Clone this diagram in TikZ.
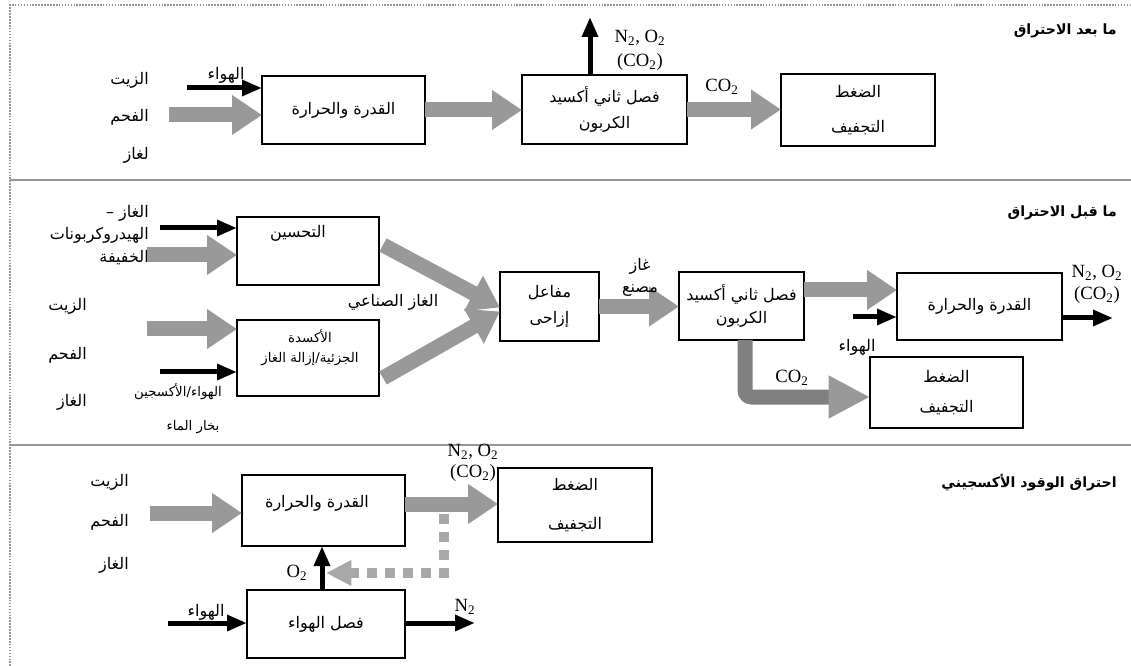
\documentclass[tikz,border=0pt]{standalone}
\usepackage{fontspec}
\usepackage{tikz}
\usetikzlibrary{arrows.meta,calc}
\newfontfamily\arabicfont[Script=Arabic]{DejaVu Sans}
\newfontfamily\chemfont{Liberation Serif}
\TeXXeTstate=1
\definecolor{arrowgray}{RGB}{153,153,153}
\definecolor{bendgray}{RGB}{128,128,128}
\definecolor{dotgray}{RGB}{168,168,168}
\definecolor{framegray}{RGB}{150,150,150}
\newcommand{\ar}[1]{\beginR #1\endR}
\tikzset{
  box/.style={draw, line width=0.8pt, inner sep=0pt, outer sep=0pt, anchor=north west, align=center, font=\arabicfont\fontsize{12}{14.4}\selectfont},
  txt/.style={inner sep=0.75pt, font=\arabicfont\fontsize{12}{14.4}\selectfont},
  small/.style={inner sep=0.75pt, font=\arabicfont\fontsize{10}{15}\selectfont},
  title/.style={inner sep=0.75pt, anchor=east, font=\arabicfont\bfseries\fontsize{10.6}{12}\selectfont},
  chem/.style={inner sep=0.75pt, align=center, font=\chemfont\fontsize{14}{18}\selectfont},
  fatarrow/.style={draw=arrowgray, line width=11.25pt, -{Triangle[length=22.5pt,width=28.5pt]}},
  bendarrow/.style={draw=bendgray, line width=11.25pt, rounded corners=5pt, -{Triangle[length=31pt,width=30pt,color=arrowgray]}},
  dotarrow/.style={draw=dotgray, line width=7.5pt, dash pattern=on 7.5pt off 6pt, -{Triangle[length=19pt,width=18pt]}},
  blackarrow/.style={line width=3.75pt, -{Triangle[length=15pt,width=11.5pt]}}
}
\begin{document}
\begin{tikzpicture}[x=0.75pt,y=0.75pt,yscale=-1,xscale=1]
\useasboundingbox (0,0) rectangle (1131,666);

\draw[framegray, line width=1.2pt, densely dotted] (10,666) -- (10,5) -- (1131,5);

\draw[framegray, line width=1.5pt] (10,180) -- (1131,180);

\draw[framegray, line width=1.5pt] (10,445) -- (1131,445);


\draw (1118,31) node (ttlpost) [title] {\ar{ما بعد الاحتراق}};

\draw (150,80) node (oil1) [txt, anchor=east] {\ar{الزيت}};

\draw (150,117) node (coal1) [txt, anchor=east] {\ar{الفحم}};

\draw (150,155) node (gas1) [txt, anchor=east] {\ar{لغاز}};

\draw (262,76) node (pw1) [box, minimum width=122.25pt, minimum height=51pt] {\ar{القدرة والحرارة}};

\draw (522,75) node (sep1) [box, minimum width=123.75pt, minimum height=51.75pt] {\ar{فصل ثاني أكسيد}\\[5.6pt]\ar{الكربون}};

\draw (781,74) node (st1) [box, minimum width=115.5pt, minimum height=54pt] {\ar{الضغط}\\[11.6pt]\ar{التجفيف}};

\coordinate (air1) at (187,88);
\draw[blackarrow] (air1) -- (air1 -| pw1.west);

\draw (226,75) node (air1lb) [txt] {\ar{الهواء}};

\coordinate (feed1) at (169,115);
\draw[fatarrow] (feed1) -- (feed1 -| pw1.west);

\draw[fatarrow] (pw1.east) -- (pw1.east -| sep1.west);

\coordinate (vent1) at (590,17);
\draw[blackarrow] (vent1 |- sep1.north) -- (vent1);

\draw (640,50) node (vent1lb) [chem] {N\textsubscript{2}, O\textsubscript{2}\\(CO\textsubscript{2})};

\draw[fatarrow] (sep1.east) -- (sep1.east -| st1.west);

\draw (722,87) node (co2a) [chem] {CO\textsubscript{2}};


\draw (1118,213) node (ttlpre) [title] {\ar{ما قبل الاحتراق}};

\draw (150,235) node (lhc) [txt, anchor=east, align=right, font=\arabicfont\fontsize{12}{17}\selectfont] {\ar{الغاز –}\\\ar{الهيدروكربونات}\\\ar{الخفيفة}};

\draw (237,217) node (ref) [box, minimum width=106.5pt, minimum height=51pt] {};

\draw (298,233) node (reft) [txt] {\ar{التحسين}};

\coordinate (air2) at (160,228);
\draw[blackarrow] (air2) -- (air2 -| ref.west);

\coordinate (feed2) at (147,255);
\draw[fatarrow] (feed2) -- (feed2 -| ref.west);

\draw (88,306) node (oil2) [txt, anchor=east] {\ar{الزيت}};

\draw (88,355) node (coal2) [txt, anchor=east] {\ar{الفحم}};

\draw (88,402) node (gas2) [txt, anchor=east] {\ar{الغاز}};

\draw (237,320) node (gsf) [box, minimum width=106.5pt, minimum height=57pt] {};

\draw (310,348) node (gsft) [small, align=center] {\ar{الأكسدة}\\\ar{الجزئية/إزالة الغاز}};

\coordinate (feed3) at (147,329);
\draw[fatarrow] (feed3) -- (feed3 -| gsf.west);

\coordinate (air3) at (160,372);
\draw[blackarrow] (air3) -- (air3 -| gsf.west);

\draw (178,392) node (air3lb) [small] {\ar{الهواء/الأكسجين}};

\draw (193,427) node (steam) [small] {\ar{بخار الماء}};

\draw (500,272) node (shift) [box, minimum width=74.25pt, minimum height=51.75pt] {\ar{مفاعل}\\[5.6pt]\ar{إزاحى}};

\draw[fatarrow] ($(ref.east)+(4,-6)$) -- ($(shift.west)+(0,1)$);

\draw[fatarrow] ($(gsf.east)+(4,20)$) -- ($(shift.west)+(0,5)$);

\draw (393,302) node (syngas) [txt] {\ar{الغاز الصناعي}};

\draw (679,272) node (sep2) [box, minimum width=93.75pt, minimum height=51pt] {\ar{فصل ثاني أكسيد}\\[2.6pt]\ar{الكربون}};

\draw[fatarrow] (shift.east) -- (shift.east -| sep2.west);

\draw (640,277) node (madegas) [txt, align=center, font=\arabicfont\fontsize{12}{16.5}\selectfont] {\ar{غاز}\\\ar{مصنع}};

\draw (897,273) node (pw2) [box, minimum width=123.75pt, minimum height=50.25pt] {\ar{القدرة والحرارة}};

\coordinate (h2) at ($(sep2.east)+(0,-16)$);
\draw[fatarrow] (h2) -- (h2 -| pw2.west);

\coordinate (air4) at (853,317);
\draw[blackarrow] (air4) -- (air4 -| pw2.west);

\draw (857,347) node (air4lb) [txt] {\ar{الهواء}};

\coordinate (out2) at (1113,318);
\draw[blackarrow] (out2 -| pw2.east) -- (out2);

\draw (1097,284) node (out2lb) [chem, font=\chemfont\fontsize{14}{16.5}\selectfont] {N\textsubscript{2}, O\textsubscript{2}\\(CO\textsubscript{2})};

\draw (870,357) node (st2) [box, minimum width=114.75pt, minimum height=53.25pt] {\ar{الضغط}\\[7.6pt]\ar{التجفيف}};

\coordinate (bend) at (745,397);
\draw[bendarrow] (bend |- sep2.south) -- (bend) -- (bend -| st2.west);

\draw (792,378) node (co2b) [chem] {CO\textsubscript{2}};


\draw (1118,483) node (ttloxy) [title] {\ar{احتراق الوقود الأكسجيني}};

\draw (130,482) node (oil3) [txt, anchor=east] {\ar{الزيت}};

\draw (130,522) node (coal3) [txt, anchor=east] {\ar{الفحم}};

\draw (130,565) node (gas3) [txt, anchor=east] {\ar{الغاز}};

\draw (242,475) node (pw3) [box, minimum width=122.25pt, minimum height=53.25pt] {};

\draw (317,503) node (pw3t) [txt] {\ar{القدرة والحرارة}};

\coordinate (feed4) at (150,513);
\draw[fatarrow] (feed4) -- (feed4 -| pw3.west);

\draw (498,468) node (st3) [box, minimum width=115.5pt, minimum height=55.5pt] {\ar{الضغط}\\[14.6pt]\ar{التجفيف}};

\coordinate (flue) at (470,504);
\draw[fatarrow] (flue -| pw3.east) -- (flue -| st3.west);

\draw (473,463) node (fluelb) [chem, font=\chemfont\fontsize{14}{16}\selectfont] {N\textsubscript{2}, O\textsubscript{2}\\(CO\textsubscript{2})};

\draw (247,590) node (asu) [box, minimum width=118.5pt, minimum height=51pt] {\ar{فصل الهواء}};

\coordinate (o2) at (322,573);
\draw[blackarrow] (o2 |- asu.north) -- (o2 |- pw3.south);

\coordinate (rec) at (444,514);
\draw[dotarrow] (rec) |- ($(o2)+(4,0)$);

\draw (297,573) node (o2lb) [chem] {O\textsubscript{2}};

\coordinate (air5) at (168,623);
\draw[blackarrow] (air5) -- (air5 -| asu.west);

\draw (206,612) node (air5lb) [txt] {\ar{الهواء}};

\coordinate (n2) at (475,623);
\draw[blackarrow] (n2 -| asu.east) -- (n2);

\draw (465,607) node (n2lb) [chem] {N\textsubscript{2}};

\end{tikzpicture}
\end{document}
